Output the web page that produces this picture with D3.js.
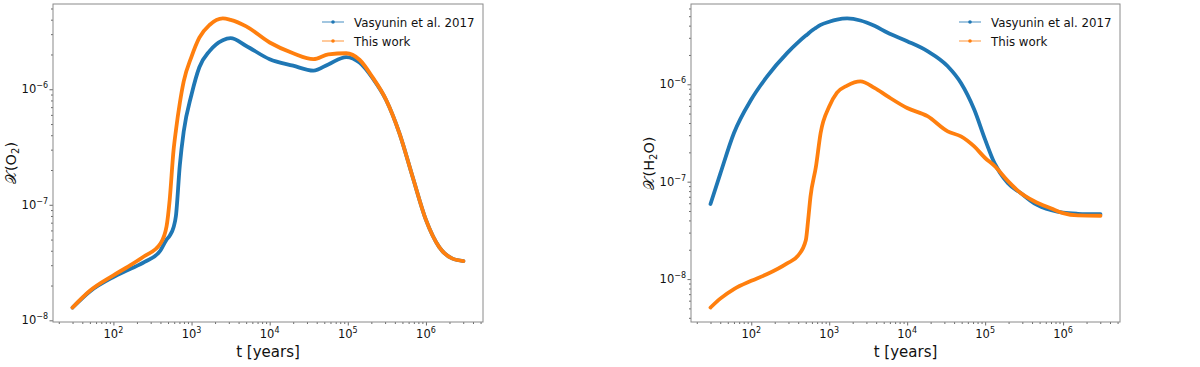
<!DOCTYPE html>
<html lang="en">
<head>
<meta charset="utf-8">
<title>O2 and H2O abundances</title>
<script src="https://cdn.jsdelivr.net/npm/d3@7"></script>
<style>
  body { margin: 0; background: #fff; }
  text { font-family: "DejaVu Sans", sans-serif; fill: #111; }
</style>
</head>
<body>
<script>
// --- data (t in years, abundance relative to H) ---
var o2Time = [30, 50, 100, 158, 251, 398, 479, 525, 589, 631, 708, 794, 1000, 1259, 1698, 2512, 3162, 5012,
              10000, 19953, 36308, 56234, 95499, 141254, 208930, 309030, 457088, 676083, 1000000, 1479108, 2187762, 3019952];
var o2Vasyunin = [1.29e-8, 1.78e-8, 2.37e-8, 2.75e-8, 3.2e-8, 4.0e-8, 5.0e-8, 5.4e-8, 6.4e-8, 8.0e-8, 2.2e-7, 4.3e-7, 9.0e-7, 1.55e-6, 2.14e-6, 2.66e-6, 2.77e-6, 2.37e-6,
                  1.82e-6, 1.6e-6, 1.45e-6, 1.64e-6, 1.9e-6, 1.7e-6, 1.24e-6, 8.07e-7, 4.17e-7, 1.74e-7, 7.4e-8, 4.3e-8, 3.42e-8, 3.26e-8];
var o2ThisWork = [1.29e-8, 1.8e-8, 2.45e-8, 2.95e-8, 3.6e-8, 4.6e-8, 6.5e-8, 1.1e-7, 2.98e-7, 4.4e-7, 7.6e-7, 1.17e-6, 1.92e-6, 2.8e-6, 3.6e-6, 4.1e-6, 3.98e-6, 3.5e-6,
                  2.54e-6, 2.05e-6, 1.82e-6, 2.0e-6, 2.05e-6, 1.8e-6, 1.26e-6, 8.1e-7, 4.17e-7, 1.74e-7, 7.4e-8, 4.3e-8, 3.42e-8, 3.26e-8];

var h2oTime = [30, 40, 60, 100, 158, 288, 398, 501, 537, 575, 676, 776, 1000, 1259, 1698, 2512, 3802, 5623,
               10000, 18197, 33113, 48978, 72444, 100000, 131826, 194984, 288403, 426580, 707946, 1000000, 1548817, 3019952];
var h2oVasyunin = [5.9e-8, 1.2e-7, 3.16e-7, 6.97e-7, 1.19e-6, 2.09e-6, 2.69e-6, 3.16e-6, 3.3e-6, 3.47e-6, 3.8e-6, 4.07e-6, 4.39e-6, 4.62e-6, 4.74e-6, 4.52e-6, 3.98e-6, 3.38e-6,
                   2.77e-6, 2.19e-6, 1.53e-6, 1.03e-6, 5.5e-7, 2.7e-7, 1.55e-7, 9.7e-8, 7.6e-8, 6.0e-8, 5.1e-8, 4.8e-8, 4.68e-8, 4.63e-8];
var h2oThisWork = [5.1e-9, 6.3e-9, 7.9e-9, 9.6e-9, 1.12e-8, 1.45e-8, 1.74e-8, 2.5e-8, 4.06e-8, 7.0e-8, 1.43e-7, 3.16e-7, 5.9e-7, 8.2e-7, 9.7e-7, 1.07e-6, 9.2e-7, 7.5e-7,
                   5.7e-7, 4.7e-7, 3.28e-7, 2.92e-7, 2.3e-7, 1.75e-7, 1.45e-7, 1.02e-7, 7.6e-8, 6.3e-8, 5.3e-8, 4.75e-8, 4.5e-8, 4.47e-8];

var seriesNames = ["Vasyunin et al. 2017", "This work"];
var seriesColors = ["#1f77b4", "#ff7f0e"];
var xTickExps = [2, 3, 4, 5, 6];
var yTickExps = [-8, -7, -6];

var W = 1200, H = 367;
var svg = d3.select("body").append("svg").attr("width", W).attr("height", H);

// matplotlib style 5% padding in log space
function logDomain(values) {
  var lo = Math.log10(d3.min(values)), hi = Math.log10(d3.max(values));
  var pad = (hi - lo) * 0.05;
  return [Math.pow(10, lo - pad), Math.pow(10, hi + pad)];
}

function drawPanel(box, time, seriesList, species) {
  var g = svg.append("g");
  var x = d3.scaleLog().domain(logDomain(time)).range([box.x0, box.x1]);
  var allY = d3.merge(seriesList);
  var y = d3.scaleLog().domain(logDomain(allY)).range([box.y1, box.y0]);

  // minor ticks
  var xd = x.domain(), yd = y.domain();
  var xMinor = [], yMinor = [];
  for (var e = -10; e <= 8; e++) {
    for (var m = 2; m <= 9; m++) {
      var v = m * Math.pow(10, e);
      if (v >= xd[0] && v <= xd[1]) xMinor.push(v);
      if (v >= yd[0] && v <= yd[1]) yMinor.push(v);
    }
  }

  var xAxisMinor = d3.axisBottom(x).tickValues(xMinor).tickSize(2).tickFormat("");
  var xAxisMajor = d3.axisBottom(x).tickValues(xTickExps.map(function(p) { return Math.pow(10, p); }))
                     .tickSize(3.5).tickFormat("");
  var yAxisMinor = d3.axisLeft(y).tickValues(yMinor).tickSize(2).tickFormat("");
  var yAxisMajor = d3.axisLeft(y).tickValues(yTickExps.map(function(p) { return Math.pow(10, p); }))
                     .tickSize(3.5).tickFormat("");

  [xAxisMinor, xAxisMajor].forEach(function(ax) {
    g.append("g").attr("transform", "translate(0," + box.y1 + ")").call(ax)
     .call(function(s) { s.select(".domain").remove(); s.selectAll("line").attr("stroke", "#444").attr("stroke-width", 0.8); });
  });
  [yAxisMinor, yAxisMajor].forEach(function(ax) {
    g.append("g").attr("transform", "translate(" + box.x0 + ",0)").call(ax)
     .call(function(s) { s.select(".domain").remove(); s.selectAll("line").attr("stroke", "#444").attr("stroke-width", 0.8); });
  });

  // tick labels 10^n
  xTickExps.forEach(function(p) {
    var t = g.append("text").attr("x", x(Math.pow(10, p))).attr("y", box.y1 + 16)
             .attr("text-anchor", "middle").attr("font-size", "11.5px");
    t.append("tspan").text("10");
    t.append("tspan").attr("dy", -5).attr("font-size", "8px").text(p);
  });
  yTickExps.forEach(function(p) {
    var t = g.append("text").attr("x", box.x0 - 5).attr("y", y(Math.pow(10, p)) + 4)
             .attr("text-anchor", "end").attr("font-size", "11.5px");
    t.append("tspan").text("10");
    t.append("tspan").attr("dy", -5).attr("font-size", "8px").text("\u2212" + (-p));
  });

  // frame
  g.append("rect").attr("x", box.x0).attr("y", box.y0)
   .attr("width", box.x1 - box.x0).attr("height", box.y1 - box.y0)
   .attr("fill", "none").attr("stroke", "#8a8a8a").attr("stroke-width", 1);

  // curves
  var line = d3.line()
    .x(function(d) { return x(d[0]); })
    .y(function(d) { return y(d[1]); })
    .curve(d3.curveMonotoneX);
  seriesList.forEach(function(vals, i) {
    var pts = time.map(function(t, k) { return [t, vals[k]]; });
    g.append("path").datum(pts).attr("d", line)
     .attr("fill", "none").attr("stroke", seriesColors[i])
     .attr("stroke-width", 3.8).attr("stroke-linecap", "round").attr("stroke-linejoin", "round");
  });

  // legend
  seriesNames.forEach(function(name, i) {
    var ly = 22 + i * 19;
    var lx = box.x1 - 161;
    g.append("line").attr("x1", lx).attr("x2", lx + 22).attr("y1", ly).attr("y2", ly)
     .attr("stroke", seriesColors[i]).attr("stroke-width", 1.5).attr("stroke-opacity", 0.55);
    g.append("circle").attr("cx", lx + 11).attr("cy", ly).attr("r", 1.8).attr("fill", seriesColors[i]);
    g.append("text").attr("x", lx + 32).attr("y", ly + 4.5).attr("font-size", "11.8px").text(name);
  });

  // axis labels
  g.append("text").attr("x", (box.x0 + box.x1) / 2).attr("y", 357)
   .attr("text-anchor", "middle").attr("font-size", "15px").text("t [years]");

  var yl = g.append("text")
    .attr("transform", "translate(" + (box.x0 - 37) + "," + ((box.y0 + box.y1) / 2) + ") rotate(-90)")
    .attr("text-anchor", "middle").attr("font-size", "14.5px");
  yl.append("tspan").text("\uD835\uDCB3(");
  species.forEach(function(part) {
    if (part.sub) yl.append("tspan").attr("dy", 3).attr("font-size", "10px").text(part.text);
    else yl.append("tspan").attr("dy", part.back ? -3 : 0).text(part.text);
  });
}

drawPanel({x0: 53, x1: 483, y0: 4, y1: 322}, o2Time, [o2Vasyunin, o2ThisWork],
          [{text: "O"}, {text: "2", sub: true}, {text: ")", back: true}]);
drawPanel({x0: 691, x1: 1120, y0: 4, y1: 322}, h2oTime, [h2oVasyunin, h2oThisWork],
          [{text: "H"}, {text: "2", sub: true}, {text: "O)", back: true}]);
</script>
</body>
</html>
